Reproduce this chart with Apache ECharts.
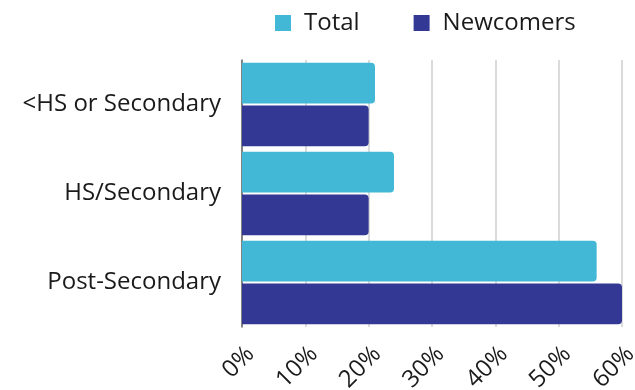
<!DOCTYPE html>
<html>
<head>
<meta charset="utf-8">
<script src="https://cdn.jsdelivr.net/npm/echarts@6/dist/echarts.min.js"></script>
<style>
  html, body { margin: 0; padding: 0; background: #ffffff; }
  #chart { width: 635px; height: 390px; }
</style>
</head>
<body>
<div id="chart"></div>
<script>
// Education level shares (%)
const categories = ['<HS or Secondary', 'HS/Secondary', 'Post-Secondary'];
const totalValues = [21, 24, 56];
const newcomerValues = [20, 20, 60];
const xTickMax = 60;
const xTickStep = 10;

const FONT = '"Open Sans"';
const chart = echarts.init(document.getElementById('chart'), null, { renderer: 'canvas' });

chart.setOption({
  backgroundColor: '#ffffff',
  animation: false,
  textStyle: { fontFamily: FONT },
  legend: {
    top: 6,
    left: 270,
    itemWidth: 16,
    itemHeight: 16,
    itemGap: 54,
    icon: 'rect',
    textStyle: { fontFamily: FONT, fontSize: 24, color: '#1a1a1a', padding: [0, 0, 0, 8] },
    data: ['Total', 'Newcomers']
  },
  grid: { left: 242, right: 13, top: 60, bottom: 63, containLabel: false, outerBoundsMode: 'none' },
  xAxis: {
    type: 'value',
    min: 0,
    max: xTickMax,
    interval: xTickStep,
    axisLine: { show: false },
    axisTick: { show: false },
    splitLine: { show: true, lineStyle: { color: '#cfcfcf', width: 1.5 } },
    axisLabel: {
      rotate: 45,
      margin: 15,
      verticalAlign: 'top',
      fontFamily: FONT,
      fontSize: 24,
      color: '#1a1a1a',
      formatter: v => v + '%'
    }
  },
  yAxis: {
    type: 'category',
    inverse: true,
    data: categories,
    axisLine: { show: true, lineStyle: { color: '#666666', width: 1.5 } },
    axisTick: { show: false },
    axisLabel: { margin: 21, fontFamily: FONT, fontSize: 24, color: '#1a1a1a' }
  },
  series: [
    {
      name: 'Total',
      type: 'bar',
      data: totalValues,
      barGap: '5%',
      barCategoryGap: '6%',
      itemStyle: { color: '#42b8d6', borderRadius: [0, 4, 4, 0] }
    },
    {
      name: 'Newcomers',
      type: 'bar',
      data: newcomerValues,
      itemStyle: { color: '#333894', borderRadius: [0, 4, 4, 0] }
    }
  ]
});
</script>
</body>
</html>
